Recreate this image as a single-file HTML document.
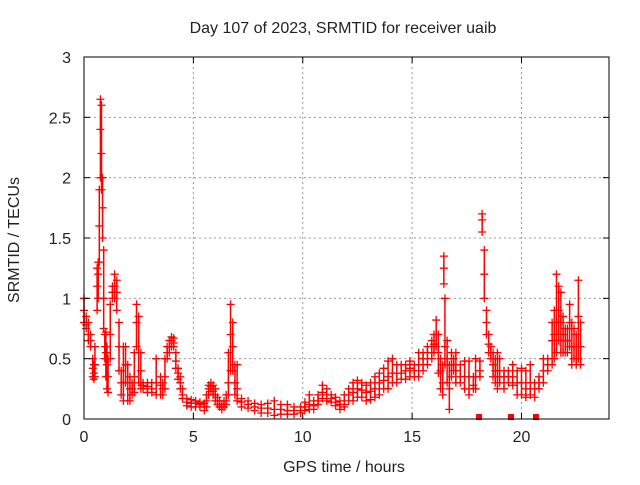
<!DOCTYPE html>
<html><head><meta charset="utf-8"><style>
body{margin:0;background:#fff}
svg text{font-family:"Liberation Sans",sans-serif;fill:#222}
</style></head><body>
<svg id="chart" width="640" height="480" viewBox="0 0 640 480" xmlns="http://www.w3.org/2000/svg">
<rect width="640" height="480" fill="#fff"/>
<g id="grid"></g>
<g id="marks"></g>
<rect x="84" y="57" width="525" height="362" fill="none" stroke="#000" stroke-width="1"/>
<g id="ticks"></g>
<text x="343" y="33" text-anchor="middle" font-size="16">Day 107 of 2023, SRMTID for receiver uaib</text>
<text x="344" y="472" text-anchor="middle" font-size="16">GPS time / hours</text>
<text x="19" y="240" text-anchor="middle" font-size="16" transform="rotate(-90 19 240)">SRMTID / TECUs</text>
</svg>
<script>
const xTicks=[0,5,10,15,20];
const yTicks=[0,0.5,1,1.5,2,2.5,3];
const yTickLabels=["0","0.5","1","1.5","2","2.5","3"];
const times=[0,0.1,0.2,0.3,0.4,0.45,0.5,0.6,0.65,0.7,0.75,0.8,0.85,0.9,0.95,1.0,1.05,1.1,1.2,1.3,1.4,1.5,1.6,1.7,1.8,1.9,2.0,2.1,2.2,2.3,2.4,2.5,2.6,2.7,2.9,3.1,3.3,3.5,3.6,3.7,3.8,3.9,4.0,4.1,4.2,4.3,4.4,4.5,4.7,4.9,5.1,5.3,5.5,5.6,5.7,5.8,5.9,6.0,6.1,6.2,6.3,6.4,6.5,6.6,6.7,6.8,6.9,7.0,7.2,7.5,7.8,8.1,8.4,8.7,9.0,9.3,9.6,9.9,10.1,10.3,10.5,10.7,10.9,11.1,11.3,11.5,11.7,11.9,12.1,12.3,12.5,12.7,12.9,13.1,13.3,13.5,13.7,13.9,14.1,14.3,14.5,14.7,14.9,15.1,15.3,15.5,15.7,15.9,16.0,16.1,16.2,16.3,16.4,16.45,16.5,16.6,16.7,16.8,16.9,17.0,17.2,17.4,17.6,17.8,17.9,18.1,18.2,18.3,18.4,18.5,18.6,18.7,18.8,18.9,19.0,19.2,19.4,19.6,19.8,20.0,20.2,20.4,20.6,20.8,21.0,21.2,21.4,21.5,21.6,21.7,21.8,21.9,22.0,22.1,22.2,22.3,22.4,22.5,22.6,22.7];
const highVals=[1.0,0.85,0.8,0.7,0.5,0.45,0.6,1.25,1.3,1.9,2.65,2.6,2.0,1.4,0.7,0.72,0.6,0.5,0.95,1.1,1.2,1.15,0.8,0.4,0.6,0.6,0.45,0.35,0.3,0.55,0.95,0.85,0.55,0.3,0.3,0.3,0.5,0.35,0.3,0.5,0.6,0.65,0.68,0.67,0.55,0.42,0.35,0.25,0.17,0.16,0.15,0.14,0.13,0.2,0.28,0.3,0.28,0.25,0.18,0.15,0.12,0.15,0.2,0.55,0.95,0.8,0.45,0.45,0.17,0.15,0.13,0.12,0.13,0.15,0.12,0.12,0.1,0.1,0.14,0.2,0.15,0.2,0.28,0.25,0.2,0.18,0.15,0.2,0.25,0.3,0.32,0.3,0.28,0.3,0.35,0.38,0.42,0.48,0.5,0.45,0.45,0.45,0.48,0.45,0.55,0.55,0.6,0.65,0.7,0.82,0.7,0.5,0.45,1.35,1.0,0.65,0.45,0.55,0.5,0.55,0.45,0.48,0.48,0.35,0.5,0.48,1.7,1.4,0.9,0.7,0.6,0.55,0.5,0.55,0.5,0.4,0.4,0.45,0.4,0.42,0.4,0.45,0.3,0.35,0.5,0.5,0.8,0.9,1.2,1.1,1.05,0.85,0.75,0.75,0.95,0.8,0.75,0.7,1.15,0.8];
const midVals=[0.9,0.78,0.7,0.65,0.42,0.38,0.45,1.1,1.2,1.6,2.4,2.2,1.75,1.0,0.6,0.55,0.45,0.35,0.7,1.05,1.1,1.05,0.6,0.3,0.3,0.45,0.3,0.25,0.25,0.35,0.8,0.55,0.4,0.28,0.27,0.25,0.3,0.28,0.25,0.35,0.55,0.6,0.65,0.63,0.48,0.38,0.3,0.2,0.14,0.13,0.13,0.12,0.1,0.15,0.25,0.27,0.23,0.2,0.15,0.12,0.1,0.12,0.15,0.3,0.7,0.6,0.3,0.25,0.14,0.12,0.1,0.09,0.09,0.08,0.08,0.07,0.07,0.07,0.1,0.12,0.11,0.15,0.22,0.2,0.17,0.14,0.12,0.12,0.2,0.22,0.25,0.24,0.22,0.23,0.25,0.3,0.32,0.35,0.38,0.38,0.38,0.4,0.42,0.4,0.45,0.5,0.55,0.6,0.62,0.7,0.55,0.4,0.3,1.25,0.6,0.5,0.25,0.45,0.45,0.4,0.35,0.35,0.35,0.28,0.35,0.4,1.65,1.2,0.8,0.62,0.55,0.45,0.4,0.4,0.35,0.35,0.35,0.35,0.3,0.3,0.25,0.3,0.25,0.3,0.4,0.45,0.65,0.7,0.8,0.9,0.8,0.7,0.65,0.65,0.8,0.6,0.6,0.6,0.85,0.6];
const lowVals=[0.8,0.75,0.65,0.6,0.35,0.33,0.35,0.9,1.0,1.3,2.0,1.9,1.5,0.75,0.5,0.35,0.25,0.22,0.5,1.0,1.0,0.9,0.4,0.2,0.15,0.3,0.15,0.15,0.2,0.22,0.6,0.3,0.25,0.25,0.22,0.22,0.2,0.2,0.2,0.25,0.5,0.55,0.6,0.6,0.42,0.33,0.25,0.17,0.11,0.1,0.1,0.1,0.07,0.1,0.2,0.23,0.2,0.15,0.12,0.1,0.08,0.1,0.12,0.2,0.4,0.4,0.2,0.15,0.1,0.09,0.07,0.05,0.05,0.03,0.04,0.04,0.04,0.05,0.07,0.08,0.08,0.12,0.17,0.15,0.14,0.11,0.08,0.1,0.15,0.15,0.18,0.18,0.15,0.16,0.18,0.2,0.25,0.25,0.3,0.3,0.33,0.33,0.35,0.35,0.35,0.4,0.45,0.5,0.55,0.6,0.38,0.25,0.2,1.12,0.45,0.3,0.08,0.35,0.4,0.3,0.3,0.25,0.2,0.25,0.25,0.35,1.55,1.0,0.7,0.55,0.5,0.35,0.3,0.25,0.3,0.25,0.3,0.28,0.2,0.2,0.18,0.2,0.18,0.25,0.3,0.4,0.45,0.5,0.55,0.65,0.55,0.55,0.55,0.55,0.6,0.45,0.5,0.45,0.5,0.45];
const gapTimes=[18.06,19.52,20.66];

const NS="http://www.w3.org/2000/svg";
const X0=84,X1=609,Y0=419,Y1=57,XMAX=24,YMAX=3;
function xs(t){return X0+(X1-X0)*t/XMAX;}
function ys(v){return Y0-(Y0-Y1)*v/YMAX;}
function mk(tag,attrs,parent){const e=document.createElementNS(NS,tag);for(const k in attrs)e.setAttribute(k,attrs[k]);parent.appendChild(e);return e;}
const grid=document.getElementById('grid'),ticks=document.getElementById('ticks'),marks=document.getElementById('marks');
xTicks.forEach(t=>{
  const x=xs(t);
  if(t>0){const g=mk('line',{x1:x,y1:Y0,x2:x,y2:Y1,stroke:'#999','stroke-dasharray':'2,3'},grid);
  
  }
  mk('line',{x1:x,y1:Y0,x2:x,y2:Y0-6,stroke:'#000'},ticks);
  mk('line',{x1:x,y1:Y1,x2:x,y2:Y1+6,stroke:'#000'},ticks);
  const l=mk('text',{x:x,y:Y0+23,'text-anchor':'middle','font-size':'16'},ticks);
  l.textContent=String(t);
  
  
});
yTicks.forEach((v,i)=>{
  const y=ys(v);
  if(v>0&&v<YMAX){const g=mk('line',{x1:X0,y1:y,x2:X1,y2:y,stroke:'#999','stroke-dasharray':'2,3'},grid);
  
  }
  mk('line',{x1:X0,y1:y,x2:X0+6,y2:y,stroke:'#000'},ticks);
  mk('line',{x1:X1,y1:y,x2:X1-6,y2:y,stroke:'#000'},ticks);
  const l=mk('text',{x:X0-13,y:y+6,'text-anchor':'end','font-size':'16'},ticks);
  l.textContent=yTickLabels[i];
  
  
});
function plus(t,v){
  const x=xs(t),y=ys(v);
  const p=mk('path',{d:`M${x-4},${y}H${x+4}M${x},${y-4}V${y+4}`,stroke:'#f00','stroke-width':'1.3',fill:'none'},marks);
  
  
}
times.forEach((t,i)=>{
  const rb=mk('line',{x1:xs(t),y1:ys(lowVals[i]),x2:xs(t),y2:ys(highVals[i]),stroke:'#f00','stroke-width':'1.5'},marks);
  
  
  plus(t,highVals[i]);plus(t,midVals[i]);plus(t,lowVals[i]);
});
gapTimes.forEach(t=>{
  const r=mk('rect',{x:xs(t)-3,y:Y0-5,width:6,height:6,fill:'#f00'},marks);
  
  
});
</script>
</body></html>
